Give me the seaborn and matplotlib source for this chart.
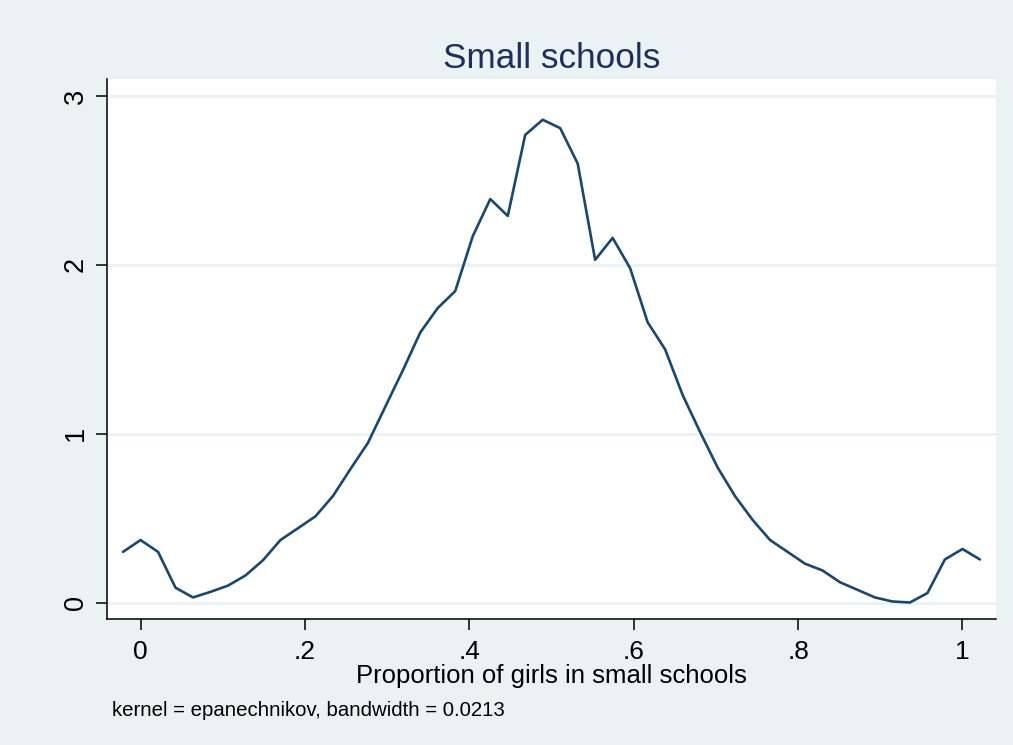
import numpy as np
import pandas as pd
import matplotlib
matplotlib.use("Agg")
import matplotlib.pyplot as plt
import seaborn as sns

# Kernel density estimate evaluated on a 50-point grid
grid_x = [-0.0213, 0.0000, 0.0213, 0.0425, 0.0638, 0.0851, 0.1064, 0.1276,
          0.1489, 0.1702, 0.1915, 0.2127, 0.2340, 0.2553, 0.2766, 0.2978,
          0.3191, 0.3404, 0.3617, 0.3829, 0.4042, 0.4255, 0.4468, 0.4680,
          0.4893, 0.5106, 0.5319, 0.5531, 0.5744, 0.5957, 0.6170, 0.6382,
          0.6595, 0.6808, 0.7021, 0.7233, 0.7446, 0.7659, 0.7872, 0.8084,
          0.8297, 0.8510, 0.8723, 0.8935, 0.9148, 0.9361, 0.9574, 0.9786,
          1.0000, 1.0212]
density = [0.300, 0.370, 0.300, 0.088, 0.030, 0.063, 0.100, 0.160,
           0.250, 0.370, 0.440, 0.510, 0.630, 0.790, 0.945, 1.160,
           1.375, 1.600, 1.745, 1.845, 2.170, 2.390, 2.290, 2.770,
           2.860, 2.810, 2.600, 2.030, 2.160, 1.980, 1.660, 1.500,
           1.230, 1.010, 0.800, 0.630, 0.490, 0.370, 0.300, 0.230,
           0.190, 0.120, 0.075, 0.030, 0.006, 0.000, 0.056, 0.255,
           0.317, 0.255]

x_ticks = [0, 0.2, 0.4, 0.6, 0.8, 1.0]
x_tick_labels = ["0", ".2", ".4", ".6", ".8", "1"]
y_ticks = [0, 1, 2, 3]
y_tick_labels = ["0", "1", "2", "3"]

title = "Small schools"
x_label = "Proportion of girls in small schools"
note = "kernel = epanechnikov, bandwidth = 0.0213"

BG = "#EAF2F3"
LINE = "#1A476F"
TITLE_C = "#1E2F5E"

sns.set_theme(style="white")
plt.rcParams["font.family"] = ["Liberation Sans", "DejaVu Sans"]

df = pd.DataFrame({"x": grid_x, "density": density})

fig = plt.figure(figsize=(10.13, 7.45), dpi=100, facecolor=BG)
ax = fig.add_axes([107 / 1013, (745 - 619.3) / 745, 889 / 1013, 540 / 745])
ax.set_facecolor("white")

sns.lineplot(data=df, x="x", y="density", ax=ax, color=LINE, linewidth=1.9,
             sort=False)

ax.set_xlim(-0.0408, 1.0408)
ax.set_ylim(-0.0995, 3.0995)

# horizontal grid only
for yv in y_ticks:
    ax.axhline(yv, color=BG, linewidth=2.0, zorder=0)

ax.set_xticks(x_ticks)
ax.set_xticklabels(x_tick_labels, fontsize=19)
ax.set_yticks(y_ticks)
ax.set_yticklabels(y_tick_labels, fontsize=19.5, rotation=90, va="center")

ax.tick_params(axis="both", direction="out", length=8, width=1.1,
               color="black", labelcolor="black", bottom=True, left=True)
ax.tick_params(axis="x", pad=7)
ax.tick_params(axis="y", pad=5)

for side in ["top", "right"]:
    ax.spines[side].set_visible(False)
for side in ["left", "bottom"]:
    ax.spines[side].set_color("black")
    ax.spines[side].set_linewidth(1.1)

ax.set_xlabel(x_label, fontsize=18.5, color="black", labelpad=0)
ax.set_ylabel("")
ax.set_title(title, fontsize=25.3, color=TITLE_C, pad=8)

fig.text(112 / 1013, (745 - 711) / 745, note, fontsize=14.7, color="black",
         va="center", ha="left")

fig.savefig("out.png", dpi=100, facecolor=BG)
